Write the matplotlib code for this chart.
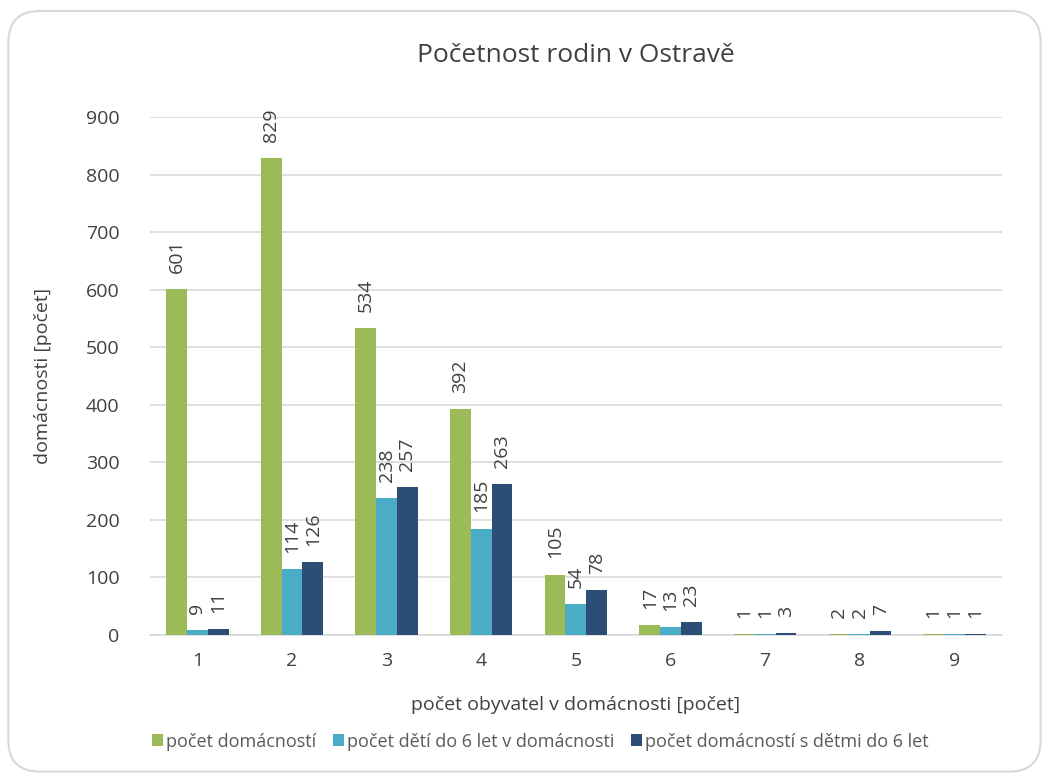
import numpy as np
import matplotlib.pyplot as plt
from matplotlib.patches import FancyBboxPatch

categories = ["1", "2", "3", "4", "5", "6", "7", "8", "9"]
domacnosti = [601, 829, 534, 392, 105, 17, 1, 2, 1]
deti = [9, 114, 238, 185, 54, 13, 1, 2, 1]
dom_s_detmi = [11, 126, 257, 263, 78, 23, 3, 7, 1]
series_names = ["počet domácností", "počet dětí do 6 let v domácnosti",
                "počet domácností s dětmi do 6 let"]
colors = ["#9BBB59", "#4BACC6", "#2C4D75"]
txt = "#595959"

plt.rcParams['font.family'] = ['Open Sans', 'DejaVu Sans']

fig = plt.figure(figsize=(10.49, 7.81), dpi=100)
ax = fig.add_axes([0.143, 0.187, 0.812, 0.663])

# rounded frame around the whole chart
frame = FancyBboxPatch((0.008, 0.012), 0.984, 0.974, boxstyle="round,pad=0,rounding_size=0.03",
                       transform=fig.transFigure, facecolor="none", edgecolor="#D9D9D9",
                       linewidth=1.5, mutation_aspect=1049 / 781)
fig.patches.append(frame)

x = np.arange(len(categories))
w = 0.22
for i, (vals, name) in enumerate(zip([domacnosti, deti, dom_s_detmi], series_names)):
    bars = ax.bar(x + (i - 1) * w, vals, w, color=colors[i], label=name, zorder=3)
    for b, v in zip(bars, vals):
        ax.text(b.get_x() + b.get_width() / 2, v + 28, str(v), rotation=90,
                ha="center", va="bottom", fontsize=14, color="#404040")

ax.set_xlim(-0.5, len(categories) - 0.5)
ax.set_ylim(0, 900)
ax.set_yticks(range(0, 901, 100))
ax.set_xticks(x)
ax.set_xticklabels(categories)
ax.yaxis.grid(True, color="#D9D9D9", linewidth=1.2, zorder=0)
for s in ["top", "right", "left"]:
    ax.spines[s].set_visible(False)
ax.spines["bottom"].set_color("#D9D9D9")
ax.spines["bottom"].set_linewidth(1.2)
ax.tick_params(axis="x", length=0, labelsize=14, labelcolor="#404040", pad=12)
ax.tick_params(axis="y", length=0, labelsize=14, labelcolor="#404040", pad=22)

ax.set_title("Početnost rodin v Ostravě", fontsize=19, color="#404040", pad=40)
ax.set_ylabel("domácnosti [počet]", fontsize=14, color="#404040", labelpad=24)
ax.set_xlabel("počet obyvatel v domácnosti [počet]", fontsize=14, color="#404040", labelpad=19)

leg = fig.legend(loc="lower center", bbox_to_anchor=(0.515, 0.018), ncol=3, frameon=False,
                 fontsize=13, handlelength=0.65, handleheight=0.65, handletextpad=0.15,
                 columnspacing=0.9)
for t in leg.get_texts():
    t.set_color(txt)

fig.savefig("out.png", dpi=100)
